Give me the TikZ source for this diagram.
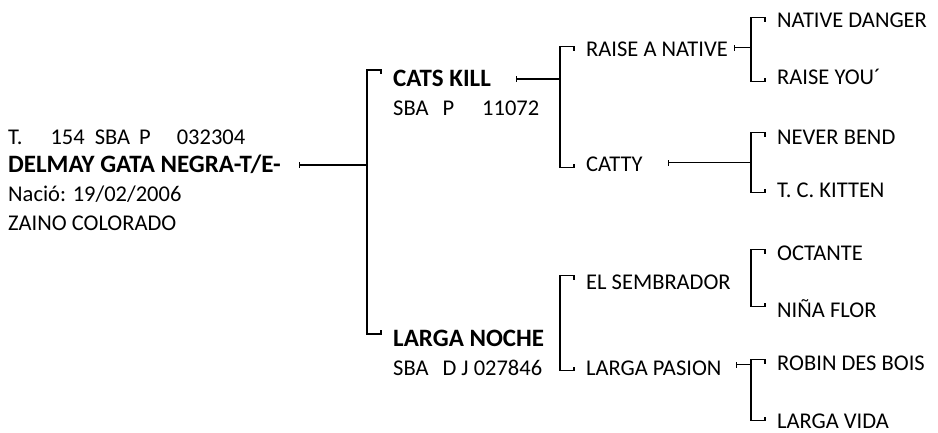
\documentclass[tikz,border=0pt]{standalone}
\usepackage{fontspec}
\setmainfont{Carlito}
\usetikzlibrary{calc,arrows.meta}
\tikzset{
  horse/.style={anchor=base west,inner sep=0pt,text height=14.5pt,text depth=0pt,font=\fontsize{22.5}{27}\selectfont},
  sire/.style={horse,text height=16pt,font=\fontsize{25}{30}\selectfont\bfseries},
  ped/.style={line width=1.3pt,line join=miter},
  link/.style={ped,{Bar[width=6pt]}-}
}
\begin{document}
\begin{tikzpicture}[x=1pt,y=-1pt]
\useasboundingbox (0,0) rectangle (938,433);
% root
\node[horse] (rt) at (8,145) {T.\hspace{28pt}154\hspace{10pt}SBA\hspace{9pt}P\hspace{26pt}032304};
\node[sire] (dm) at (8,173) {DELMAY GATA NEGRA-T/E-};
\node[horse] (nc) at (8,202) {Nació: 19/02/2006};
\node[horse] (zc) at (8,231) {ZAINO COLORADO};
% parents
\node[sire] (ck) at (393,87) {CATS KILL};
\node[horse] (ckr) at (393,116) {SBA\hspace{14pt}P\hspace{28pt}11072};
\node[sire] (ln) at (393,346) {LARGA NOCHE};
\node[horse] (lnr) at (393,375) {SBA\hspace{14pt}D J 027846};
% grandparents
\node[horse] (ra) at (586,57) {RAISE A NATIVE};
\node[horse] (ct) at (586,172) {CATTY};
\node[horse] (es) at (586,289) {EL SEMBRADOR};
\node[horse] (lp) at (586,375) {LARGA PASION};
% great-grandparents
\foreach \n/\y/\t in {nd/28/NATIVE DANGER, ry/85/RAISE YOU´, nb/145/NEVER BEND, tk/197/T. C. KITTEN,
  oc/260/OCTANTE, nf/317/NIÑA FLOR, rb/370/ROBIN DES BOIS, lv/428/LARGA VIDA}
  \node[horse] (\n) at (777,\y) {\t};
% brackets
\foreach \u/\d/\a/\b in {nd/ry/-3/4, nb/tk/-5/3, oc/nf/-3/-3, rb/lv/-3/0, ra/ct/-3/3, es/lp/-6/3, ck/ln/-9/-4}
  \draw[ped] ($(\u.west)+(-12,\a+4)$) -- ++(0,-4) -- ++(-14,0) coordinate (bar-\u)
    |- ($(\d.west)+(-26,\b)$) -- ++(14,0) -- ++(0,-4);
% links
\foreach \p/\b/\dx/\dy in {dm/ck/18/0, ck/ra/25/0, ra/nd/6/-2, ct/nb/25/-2, lp/rb/14/-3}
  \draw[link] ($(\p.east)+(\dx,\dy)$) -- ($(\p.east -| bar-\b)+(0,\dy)$);
\end{tikzpicture}
\end{document}
